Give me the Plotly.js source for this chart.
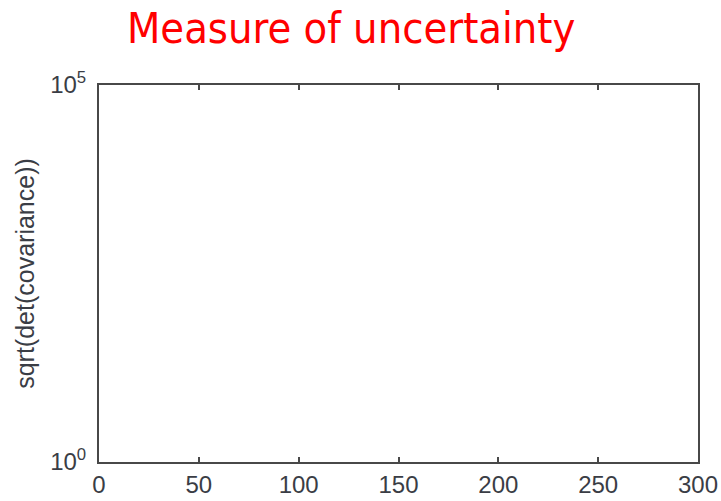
<!DOCTYPE html>
<html>
<head>
<meta charset="utf-8">
<script src="https://cdn.plot.ly/plotly-3.0.1.min.js"></script>
<style>html,body{margin:0;padding:0;background:#fff;}#chart{width:721px;height:501px;}</style>
</head>
<body>
<div id="chart"></div>
<script>
// The reference chart shows empty axes (no plotted data).
const iterations = [];
const uncertainty = [];
const xTickVals = [0, 50, 100, 150, 200, 250, 300];
const xTickText = ["0", "50", "100", "150", "200", "250", "300"];
const yTickVals = [1, 100000];
const yTickText = ["10<sup>0</sup>", "10<sup>5</sup>"];

const axisColor = "#484848";
const tickFont = {family: "Liberation Sans, Arial, sans-serif", size: 24, color: "#3a3d45"};

const data = [{
  x: iterations, y: uncertainty, type: "scatter", mode: "lines",
  line: {color: "#0000ff", width: 1}, showlegend: false
}];

const layout = {
  width: 721, height: 501,
  margin: {l: 99, r: 23, t: 85, b: 39, pad: 0},
  paper_bgcolor: "#ffffff", plot_bgcolor: "#ffffff",
  title: {
    text: "Measure of uncertainty",
    font: {family: "DejaVu Sans Condensed, Liberation Sans, sans-serif", size: 43, color: "#ff0000"},
    x: 0.487, xanchor: "center", y: 0.945, yanchor: "middle"
  },
  xaxis: {
    range: [0, 300], tickvals: xTickVals, ticktext: xTickText,
    ticks: "inside", ticklen: 5, tickwidth: 2, tickcolor: axisColor,
    showline: true, linecolor: axisColor, linewidth: 2, mirror: "ticks",
    showgrid: false, zeroline: false, tickfont: tickFont, fixedrange: true
  },
  yaxis: {
    type: "log", range: [0, 5], tickvals: yTickVals, ticktext: yTickText,
    ticks: "", showline: true, linecolor: axisColor, linewidth: 2, mirror: true,
    showgrid: false, zeroline: false, tickfont: tickFont, ticklabelstandoff: 6,
    title: {text: "sqrt(det(covariance))", font: {family: "Liberation Sans, Arial, sans-serif", size: 25, color: "#3a3d45"}, standoff: 8},
    fixedrange: true
  }
};

Plotly.newPlot("chart", data, layout, {displayModeBar: false, staticPlot: true});
</script>
</body>
</html>
